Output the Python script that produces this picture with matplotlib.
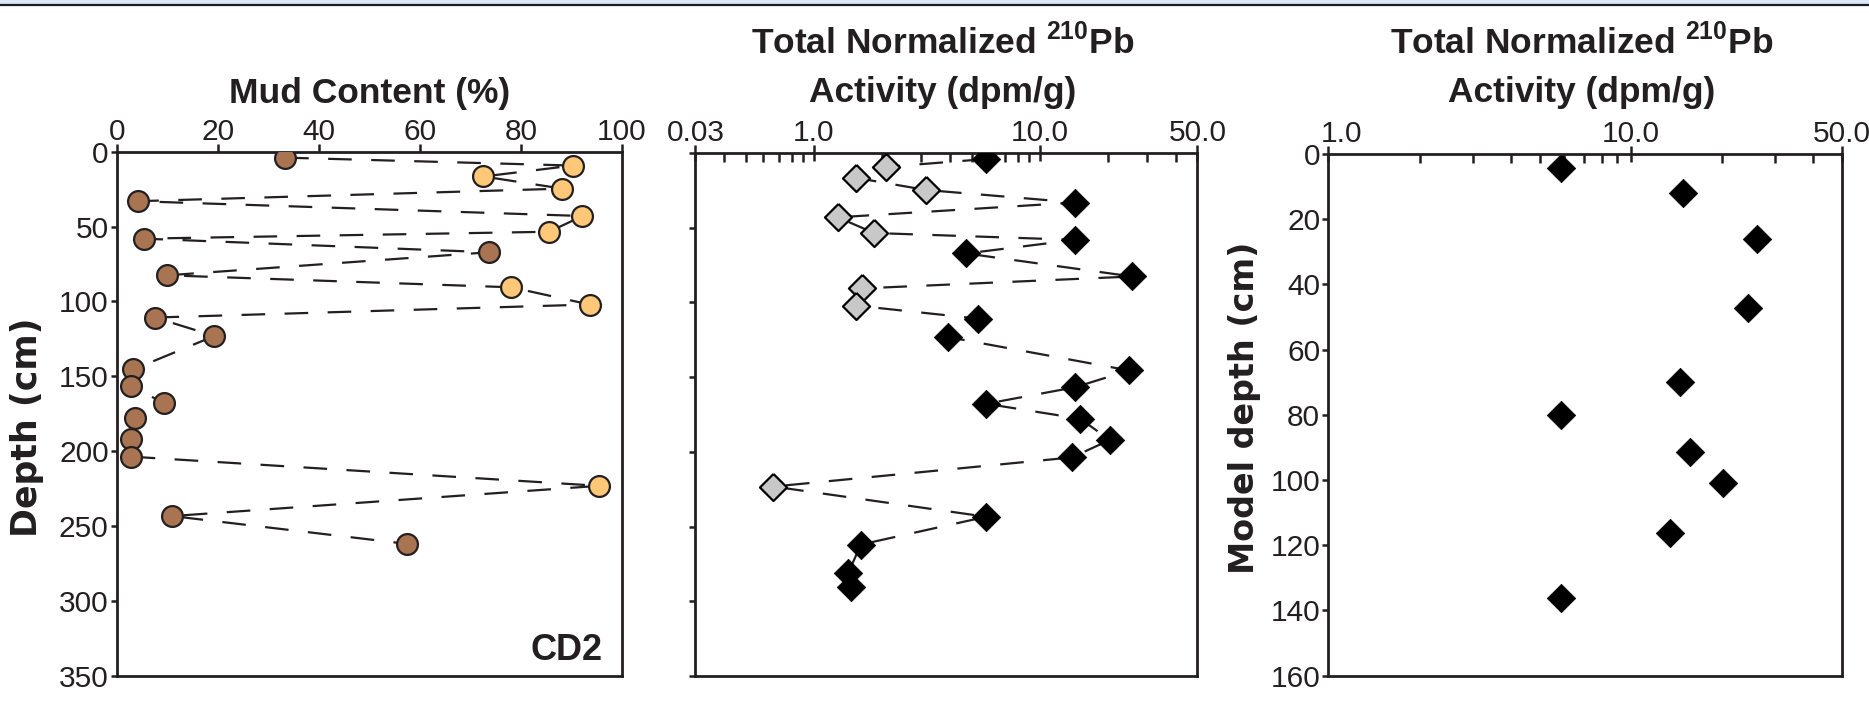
import matplotlib
matplotlib.use("Agg")
import matplotlib.pyplot as plt
import matplotlib.transforms as mtransforms
import numpy as np
from matplotlib.lines import Line2D
from matplotlib.patches import Rectangle
from matplotlib.ticker import FixedLocator, LogLocator, NullFormatter

# sample depths (cm) shared by mud and 210Pb profiles
depth = [4.0, 9.3, 16.6, 24.7, 33.1, 43.0, 53.5, 58.1, 67.2, 82.6, 90.6, 102.1,
         110.8, 123.1, 145.5, 156.7, 167.8, 177.8, 192.0, 203.7, 223.2, 243.4, 262.0]
pb_extra_depth = [281.3, 290.7]

mud_pct = [33.3, 90.3, 72.6, 88.2, 4.1, 92.2, 85.6, 5.3, 73.7, 10.0, 78.1, 93.6,
           7.5, 19.3, 3.2, 2.7, 9.3, 3.6, 2.7, 2.7, 95.5, 10.9, 57.5]
# True = sample flagged (light symbols)
flagged = [False, True, True, True, False, True, True, False, False, False, True, True,
           False, False, False, False, False, False, False, False, True, False, False]

pb_act = [5.79, 2.09, 1.54, 3.14, 14.4, 1.28, 1.85, 14.4, 4.74, 25.7, 1.63, 1.54,
          5.34, 3.92, 24.9, 14.4, 5.81, 15.1, 20.5, 13.9, 0.664, 5.81, 1.62, 1.42, 1.47]

model_depth = [4.2, 12.1, 26.2, 47.3, 69.8, 80.1, 91.5, 101.0, 116.2, 136.3]
model_act = [5.87, 14.85, 26.2, 24.4, 14.5, 5.87, 15.7, 20.1, 13.5, 5.87]

mid_ticks = [0.3, 1, 10, 50]
mid_ticklabels = ["0.03", "1.0", "10.0", "50.0"]
right_ticks = [1, 10, 50]
right_ticklabels = ["1.0", "10.0", "50.0"]

INK = "#231f20"
BROWN = "#a87452"
SAND = "#ffc878"
GREY = "#c8c8c8"

plt.rcParams["font.family"] = ["Liberation Sans", "DejaVu Sans"]
plt.rcParams["mathtext.fontset"] = "custom"
plt.rcParams["mathtext.rm"] = "Liberation Sans"
plt.rcParams["mathtext.bf"] = "Liberation Sans:bold"
plt.rcParams["lines.scale_dashes"] = False
plt.rcParams["axes.linewidth"] = 2.0
plt.rcParams["axes.edgecolor"] = INK

diamond = [(0, 1), (1, 0), (0, -1), (-1, 0), (0, 1)]
DASH = (17, 14)

fig = plt.figure(figsize=(18.69, 7.05), dpi=100)

# header band
fig.patches.append(Rectangle((0, 1 - 4 / 705), 1, 4 / 705, transform=fig.transFigure,
                             color="#dde8f4", zorder=0))
fig.lines.append(Line2D([0, 1], [1 - 5 / 705] * 2, transform=fig.transFigure,
                        color="#1b1f2a", lw=1.6))

ax1 = fig.add_axes([0.0626, 0.0416, 0.2701, 0.7433])
ax2 = fig.add_axes([0.3721, 0.0411, 0.2686, 0.7418])
ax3 = fig.add_axes([0.7108, 0.0416, 0.2749, 0.7400])

tick_font = 21.5

# ---- mud content
ax1.plot(mud_pct, depth, color=INK, lw=1.6, dashes=DASH, zorder=2)
for x, d, f in zip(mud_pct, depth, flagged):
    ax1.plot(x, d, marker="o", ms=15, mfc=SAND if f else BROWN,
             mec=INK, mew=1.6, ls="none", zorder=3)
ax1.set_xlim(0, 100)
ax1.set_ylim(350, 0)
ax1.set_xticks(range(0, 101, 20))
ax1.set_yticks(range(0, 351, 50))
ax1.xaxis.tick_top()
ax1.tick_params(axis="x", direction="out", length=5.5, width=1.8, color=INK,
                labelsize=tick_font, labelcolor=INK, pad=-1.5)
ax1.tick_params(axis="y", direction="out", length=4.5, width=1.8, color=INK,
                labelsize=tick_font, labelcolor=INK, pad=1.5)
ax1.text(0.9626, 0.030, "CD2", transform=ax1.transAxes, ha="right", va="baseline",
         fontsize=26, fontweight="bold", color=INK)

# ---- total 210Pb vs depth
ax2.plot(pb_act, depth + pb_extra_depth, color=INK, lw=1.6, dashes=DASH, zorder=2)
pb_flag = flagged + [False] * len(pb_extra_depth)
for x, d, f in zip(pb_act, depth + pb_extra_depth, pb_flag):
    if f:
        ax2.plot(x, d, marker=diamond, ms=19.5, mfc=GREY, mec="black", mew=1.6,
                 ls="none", zorder=3)
    else:
        ax2.plot(x, d, marker=diamond, ms=20.5, mfc="black", mec="black", mew=0.5,
                 ls="none", zorder=3)
ax2.set_xscale("log")
ax2.set_xlim(0.3, 50)
ax2.set_ylim(350, 0)
ax2.set_yticks(range(0, 351, 50))
ax2.set_yticklabels([])

# ---- model depth
ax3.plot(model_act, model_depth, marker=diamond, ms=20.5, mfc="black", mec="black",
         mew=0.5, ls="none")
ax3.set_xscale("log")
ax3.set_xlim(1, 50)
ax3.set_ylim(160, 0)
ax3.set_yticks(range(0, 161, 20))

for ax, ticks, labels in [(ax2, mid_ticks, mid_ticklabels), (ax3, right_ticks, right_ticklabels)]:
    ax.xaxis.tick_top()
    ax.xaxis.set_major_locator(FixedLocator(ticks))
    ax.set_xticklabels(labels)
    ax.xaxis.set_minor_locator(LogLocator(subs=np.arange(2, 10)))
    ax.xaxis.set_minor_formatter(NullFormatter())
    ax.tick_params(axis="x", which="major", direction="inout", length=11, width=1.8,
                   color=INK, labelsize=tick_font, labelcolor=INK, pad=-1.5)
    ax.tick_params(axis="x", which="minor", direction="in", length=6.5, width=1.8,
                   color=INK, labeltop=False, labelbottom=False)
    ax.tick_params(axis="y", direction="out", length=4.5, width=1.8, color=INK,
                   labelsize=tick_font, labelcolor=INK, pad=1.5)

# the corner "1.0" of the right panel sits a little right of its tick
first = ax3.xaxis.get_major_ticks()[0].label2
first.set_transform(first.get_transform() +
                    mtransforms.ScaledTranslation(0.13, 0, fig.dpi_scale_trans))

# axis labels
ylab_kw = dict(rotation=90, ha="center", va="center", family="DejaVu Sans",
               fontweight="bold", color=INK)
fig.text(27 / 1869, 1 - 427 / 705, "Depth (cm)", fontsize=25, **ylab_kw)
fig.text(1244 / 1869, 1 - 408 / 705, "Model depth (cm)", fontsize=24, **ylab_kw)

# titles
title_kw = dict(ha="center", va="baseline", fontsize=25.5, fontweight="bold", color=INK)
fig.text(370 / 1869, 1 - 103 / 705, "Mud Content (%)", **title_kw)
for cx in (943 / 1869, 1582 / 1869):
    fig.text(cx, 1 - 54 / 705, r"Total Normalized $^{\mathbf{210}}$Pb", **title_kw)
    fig.text(cx, 1 - 102 / 705, "Activity (dpm/g)", **title_kw)

fig.savefig("out.png", dpi=100)
